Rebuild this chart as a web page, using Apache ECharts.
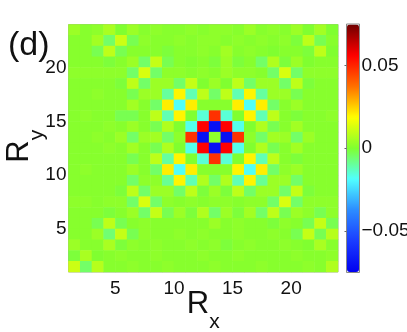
<!DOCTYPE html>
<html>
<head>
<meta charset="utf-8">
<style>html,body{margin:0;padding:0;background:#fff}#main{width:407px;height:332px}</style>
<script src="https://cdn.jsdelivr.net/npm/echarts@6/dist/echarts.min.js"></script>
</head>
<body>
<div id="main"></div>
<script>
// cell labels, one per pcolor cell (R = 1..23, cell spans R to R+1)
var cells = ["1","2","3","4","5","6","7","8","9","10","11","12","13","14","15","16","17","18","19","20","21","22","23"];
var xTicks = [5, 10, 15, 20];
var yTicks = [5, 10, 15, 20];
var barTicks = [-0.05, 0, 0.05];
// colormap, evenly spaced from bottom to top
var ramp = ["#0000f0", "#1a3cff", "#2c8cff", "#50ffff", "#80ff30", "#ffff00", "#ff7000", "#ff0000", "#700000"];
// values x 1000, rows listed from the top of the picture
var rows = [
  [4,1,2,6,0,4,1,2,1,1,2,1,2,2,1,4,1,2,1,4,0,5,0],
  [1,1,5,-5,11,-3,2,1,1,2,1,2,2,1,2,1,2,1,2,-1,9,-3,1],
  [1,1,-3,9,-3,1,1,1,-1,1,1,2,1,5,1,2,1,0,1,1,-1,9,0],
  [1,1,1,-1,1,4,-5,10,-3,1,0,1,-1,4,-1,1,-5,7,-1,4,0,1,1],
  [2,2,2,2,2,-5,13,-5,2,2,1,2,1,4,2,2,1,-5,13,-5,2,2,2],
  [1,1,1,1,-1,9,-5,4,4,-5,10,0,4,0,9,-5,4,4,-5,9,-1,1,1],
  [1,1,2,1,1,-3,4,4,-10,20,-12,9,-5,9,-12,20,-10,4,4,-3,1,1,1],
  [1,1,1,1,1,5,1,-5,21,-18,21,1,1,1,21,-18,21,-5,1,4,1,1,1],
  [1,2,1,1,-3,-3,1,9,-12,20,0,-15,48,-15,0,20,-12,9,1,-1,1,1,2],
  [1,1,1,2,1,4,1,-3,7,0,-17,56,-70,56,-17,0,7,-3,1,5,1,1,1],
  [1,1,2,1,4,-5,4,5,-5,2,48,-70,2,-70,48,2,-5,5,4,-5,4,1,1],
  [1,1,1,2,1,5,1,-3,7,0,-17,56,-70,56,-17,0,7,-3,1,5,1,1,1],
  [1,1,1,1,1,-3,1,9,-10,20,0,-15,48,-15,0,20,-12,9,1,-1,1,1,1],
  [1,2,1,1,1,4,1,-5,21,-18,21,1,1,1,20,-18,21,-5,2,4,1,1,1],
  [1,1,1,1,1,-5,2,2,-9,20,-12,7,-5,7,-12,20,-9,4,4,-5,1,1,1],
  [1,1,1,1,-1,9,-5,4,4,-5,9,-1,4,-1,9,-5,4,4,-5,10,-1,1,1],
  [2,2,1,2,2,-5,13,-5,2,1,2,1,2,2,1,2,2,-5,13,-5,2,2,2],
  [1,1,1,-1,1,4,-5,10,-3,4,-1,7,-5,4,-1,5,-5,9,-3,4,2,-3,2],
  [1,1,-3,9,-3,1,2,1,1,1,1,1,4,1,2,1,1,-1,2,1,-3,10,-3],
  [1,1,4,-6,10,-3,2,1,1,2,1,2,1,1,2,1,1,2,1,-3,10,-3,8],
  [4,1,1,6,-1,2,1,2,1,1,2,1,2,-1,1,2,1,1,2,1,0,6,1],
  [-1,6,0,1,2,1,1,2,1,1,1,2,1,1,2,1,1,1,1,2,1,1,2],
  [11,-5,8,1,1,2,1,1,2,1,1,1,2,1,1,1,2,1,1,1,2,1,7]
];

var font = "Liberation Sans";
var frame = "#a8a8a8";
var data = [];
rows.forEach(function (row, r) {
  row.forEach(function (v, c) {
    data.push([c, rows.length - 1 - r, v / 1000]);
  });
});

function rich(leftPad) {
  return {
    R: { fontFamily: font, fontSize: 31, lineHeight: 30, color: "#111", verticalAlign: "top", padding: [0, 0, 0, leftPad] },
    s: { fontFamily: font, fontSize: 21, lineHeight: 44, color: "#111", verticalAlign: "bottom" }
  };
}

var chart = echarts.init(document.getElementById("main"));
chart.setOption({
  animation: false,
  backgroundColor: "#fff",
  title: {
    text: "(d)", left: 3, top: 24,
    textStyle: { fontFamily: font, fontSize: 34, fontWeight: "normal", color: "#111" }
  },
  grid: [
    { left: 68.5, top: 24.5, width: 269.5, height: 247.5, show: true, borderColor: frame, borderWidth: 1, backgroundColor: "transparent", outerBoundsMode: "none" },
    { left: 346.5, top: 24, width: 13, height: 248.5, show: true, borderColor: "#888", borderWidth: 1, backgroundColor: "transparent", outerBoundsMode: "none" }
  ],
  xAxis: [
    { type: "category", data: cells, gridIndex: 0, axisLine: { show: false }, axisTick: { show: false }, axisLabel: { show: false }, splitLine: { show: false } },
    {
      type: "value", gridIndex: 0, min: 1, max: 24, position: "bottom",
      axisLine: { show: false },
      axisTick: { show: false },
      axisLabel: { customValues: xTicks, fontFamily: font, fontSize: 19, color: "#111", margin: 7 },
      splitLine: { show: false },
      name: "{R|R}{s|x}", nameLocation: "middle", nameGap: 17, nameMoveOverlap: false,
      nameTextStyle: { rich: rich(0) }
    },
    { type: "value", gridIndex: 1, min: 0, max: 1, show: false }
  ],
  yAxis: [
    { type: "category", data: cells, gridIndex: 0, axisLine: { show: false }, axisTick: { show: false }, axisLabel: { show: false }, splitLine: { show: false } },
    {
      type: "value", gridIndex: 0, min: 1, max: 24, position: "left",
      axisLine: { show: false },
      axisTick: { show: false },
      axisLabel: { customValues: yTicks, fontFamily: font, fontSize: 19, color: "#111", margin: 2, padding: [4, 0, 0, 0] },
      splitLine: { show: false },
      name: "{R|R}{s|y}", nameLocation: "middle", nameGap: 21, nameMoveOverlap: false,
      nameTextStyle: { rich: rich(4) }
    },
    {
      type: "value", gridIndex: 1, min: -0.075, max: 0.075, position: "right",
      axisLine: { show: false },
      axisTick: { show: true, customValues: barTicks, inside: true, length: 2, lineStyle: { color: "#666" } },
      axisLabel: {
        customValues: barTicks, fontFamily: font, fontSize: 19, color: "#111", margin: 2, padding: [4, 0, 0, 0],
        formatter: function (v) { return v < 0 ? "\u2212" + (-v) : String(v); }
      },
      splitLine: { show: false }
    }
  ],
  visualMap: {
    type: "continuous", seriesIndex: 0, min: -0.075, max: 0.075, calculable: false,
    orient: "vertical", left: 347, top: 24.5, itemWidth: 12, itemHeight: 247.5,
    text: null, showLabel: false, padding: 0, hoverLink: false,
    inRange: { color: ramp }
  },
  series: [{
    type: "heatmap", xAxisIndex: 0, yAxisIndex: 0, data: data,
    progressive: 0, silent: true,
    itemStyle: { borderWidth: 0 }
  }]
});
</script>
</body>
</html>
